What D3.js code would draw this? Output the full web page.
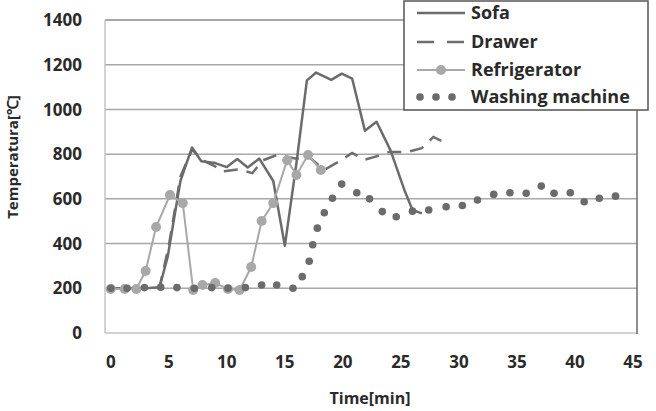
<!DOCTYPE html>
<html lang="en">
<head>
<meta charset="UTF-8" />
<title>Temperature vs time</title>
<style>
  html, body { margin: 0; padding: 0; background: #fff; }
  svg { display: block; font-family: "Open Sans", "Liberation Sans", Arial, sans-serif; }
  .tick-label { font-size: 17px; font-weight: bold; fill: #2a2a2a; }
  .axis-title { font-size: 16px; font-weight: bold; fill: #2a2a2a; }
  .legend text { font-size: 18px; font-weight: bold; fill: #2a2a2a; }
</style>
</head>
<body>
<svg id="chart" width="656" height="411"></svg>
<script src="https://d3js.org/d3.v7.min.js"></script>
<script>
// values: [time in min, temperature in °C]
const sofa = [
  [0, 200], [1, 200], [2, 200], [3, 200], [4.2, 205], [4.9, 340], [6, 680],
  [7, 830], [7.8, 768], [9, 760], [10, 742], [10.9, 778], [11.8, 740],
  [12.8, 780], [14, 680], [15, 390], [16, 760], [16.9, 1130], [17.7, 1165],
  [19, 1132], [19.9, 1160], [20.8, 1138], [21.9, 905], [22.9, 945],
  [24.1, 818], [25.3, 640], [26, 550], [26.8, 535]
];
const drawer = [
  [0, 200], [1, 200], [2, 200], [3, 200], [4.2, 205], [5, 390], [6, 700],
  [7, 820], [8, 770], [9, 745], [9.6, 722], [11, 732], [12.2, 715],
  [13.1, 772], [14.3, 796], [15, 790], [16, 780], [17, 790], [18.4, 730],
  [19.6, 765], [20.8, 805], [21.9, 775], [23.2, 795], [24, 810],
  [25.6, 810], [26.8, 827], [27.8, 877], [28.8, 852]
];
const refrigerator = [
  [0, 197], [1.2, 197], [2.2, 197], [3, 277], [3.9, 474], [5.1, 617],
  [6.2, 581], [7.1, 192], [7.9, 215], [9, 224], [10.1, 197], [11.1, 192],
  [12.1, 295], [13, 501], [14, 581], [15.2, 773], [16, 707], [17, 796],
  [18.1, 729]
];
const washing = [
  [0, 200], [1.4, 200], [2.9, 203], [4.3, 205], [5.7, 203], [7.2, 200],
  [8.7, 203], [10.1, 200], [11.6, 203], [13, 215], [14.3, 215], [15.7, 200],
  [16.5, 252], [17.1, 321], [17.4, 395], [17.8, 469], [18.4, 538],
  [19.1, 603], [19.9, 666], [21.2, 627], [22.3, 600], [23.4, 543],
  [24.6, 520], [26, 545], [27.4, 550], [28.9, 565], [30.3, 570],
  [31.6, 595], [33, 620], [34.4, 627], [35.8, 625], [37.1, 657],
  [38.2, 625], [39.6, 627], [40.8, 587], [42.1, 603], [43.5, 612]
];
const xTicks = [0, 5, 10, 15, 20, 25, 30, 35, 40, 45];
const yTicks = [0, 200, 400, 600, 800, 1000, 1200, 1400];
const seriesNames = ["Sofa", "Drawer", "Refrigerator", "Washing machine"];

const svg = d3.select("#chart");
const plot = { left: 105, right: 637, top: 20, bottom: 333 };

const x = d3.scaleLinear().domain([-0.5, 45.35]).range([plot.left, plot.right]);
const y = d3.scaleLinear().domain([0, 1400]).range([plot.bottom, plot.top]);

// gridlines
svg.append("g")
  .selectAll("line")
  .data(yTicks.filter(d => d > 0))
  .join("line")
  .attr("x1", plot.left).attr("x2", plot.right)
  .attr("y1", d => y(d)).attr("y2", d => y(d))
  .attr("stroke", d => d === 1400 ? "#8a8a8a" : "#a8a8a8")
  .attr("stroke-width", 1.5);

// plot borders
svg.append("line")
  .attr("x1", plot.left).attr("x2", plot.left)
  .attr("y1", plot.top).attr("y2", plot.bottom)
  .attr("stroke", "#c4c4c4").attr("stroke-width", 1.5);
svg.append("line")
  .attr("x1", plot.left).attr("x2", plot.right)
  .attr("y1", plot.bottom).attr("y2", plot.bottom)
  .attr("stroke", "#c4c4c4").attr("stroke-width", 1.5);
svg.append("line")
  .attr("x1", plot.right).attr("x2", plot.right)
  .attr("y1", plot.top).attr("y2", plot.bottom + 1)
  .attr("stroke", "#6a6a6a").attr("stroke-width", 1.5);

// tick labels
svg.append("g")
  .selectAll("text")
  .data(yTicks)
  .join("text")
  .attr("class", "tick-label")
  .attr("x", 82)
  .attr("y", d => y(d))
  .attr("dy", "0.36em")
  .attr("text-anchor", "end")
  .text(d => d);

svg.append("g")
  .selectAll("text")
  .data(xTicks)
  .join("text")
  .attr("class", "tick-label")
  .attr("x", d => x(d))
  .attr("y", 368)
  .attr("text-anchor", "middle")
  .text(d => d);

// axis titles
svg.append("text")
  .attr("class", "axis-title")
  .attr("x", 370).attr("y", 404)
  .attr("text-anchor", "middle")
  .text("Time[min]");

svg.append("text")
  .attr("class", "axis-title")
  .attr("transform", "translate(18,157) rotate(-90)")
  .attr("text-anchor", "middle")
  .style("font-size", "15px")
  .text("Temperatura[℃]");

const line = d3.line().x(d => x(d[0])).y(d => y(d[1]));

// Drawer (dashed)
svg.append("path")
  .datum(drawer)
  .attr("d", line)
  .attr("fill", "none")
  .attr("stroke", "#6e6e6e")
  .attr("stroke-width", 2.5)
  .attr("stroke-dasharray", "14,9");

// Sofa (solid)
svg.append("path")
  .datum(sofa)
  .attr("d", line)
  .attr("fill", "none")
  .attr("stroke", "#6b6b6b")
  .attr("stroke-width", 2.5)
  .attr("stroke-linejoin", "round");

// Refrigerator (line + markers)
svg.append("path")
  .datum(refrigerator)
  .attr("d", line)
  .attr("fill", "none")
  .attr("stroke", "#a8a8a8")
  .attr("stroke-width", 2);
svg.append("g")
  .selectAll("circle")
  .data(refrigerator)
  .join("circle")
  .attr("cx", d => x(d[0]))
  .attr("cy", d => y(d[1]))
  .attr("r", 5)
  .attr("fill", "#a8a8a8");

// Washing machine (dots only)
svg.append("g")
  .selectAll("circle")
  .data(washing)
  .join("circle")
  .attr("cx", d => x(d[0]))
  .attr("cy", d => y(d[1]))
  .attr("r", 3.8)
  .attr("fill", "#6b6b6b");

// legend
const legend = svg.append("g").attr("class", "legend");
legend.append("rect")
  .attr("x", 404).attr("y", 1)
  .attr("width", 244).attr("height", 109)
  .attr("fill", "#fff")
  .attr("stroke", "#555").attr("stroke-width", 1.5);

const rowY = [13, 42, 70, 97];
const sx0 = 417, sx1 = 465;

legend.append("line")
  .attr("x1", sx0).attr("x2", sx1).attr("y1", rowY[0]).attr("y2", rowY[0])
  .attr("stroke", "#6b6b6b").attr("stroke-width", 2.5);
legend.append("line")
  .attr("x1", sx0).attr("x2", sx1).attr("y1", rowY[1]).attr("y2", rowY[1])
  .attr("stroke", "#6e6e6e").attr("stroke-width", 2.5)
  .attr("stroke-dasharray", "17,13");
legend.append("line")
  .attr("x1", sx0).attr("x2", sx1).attr("y1", rowY[2]).attr("y2", rowY[2])
  .attr("stroke", "#a8a8a8").attr("stroke-width", 2);
legend.append("circle")
  .attr("cx", (sx0 + sx1) / 2).attr("cy", rowY[2]).attr("r", 5)
  .attr("fill", "#a8a8a8");
legend.append("g")
  .selectAll("circle")
  .data([0, 1, 2])
  .join("circle")
  .attr("cx", d => 420 + d * 16)
  .attr("cy", rowY[3])
  .attr("r", 3.8)
  .attr("fill", "#6b6b6b");

legend.selectAll("text")
  .data(seriesNames)
  .join("text")
  .attr("x", 471)
  .attr("y", (d, i) => rowY[i])
  .attr("dy", "0.36em")
  .text(d => d);
</script>
</body>
</html>
